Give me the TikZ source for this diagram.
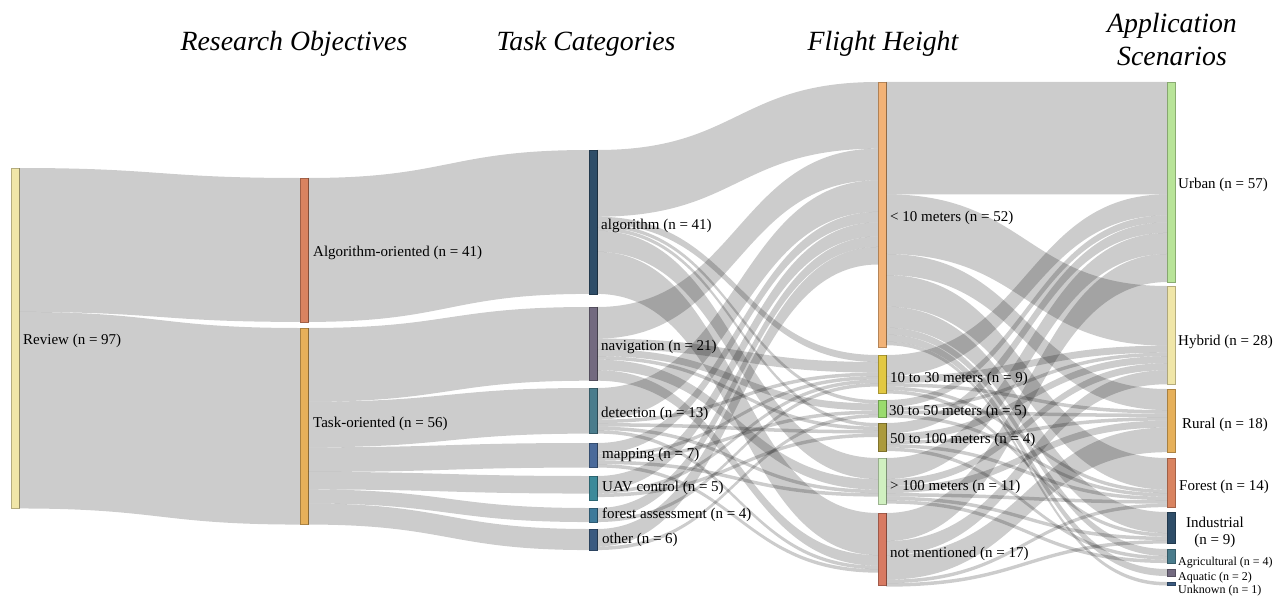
\documentclass[tikz,border=0pt]{standalone}
\usepackage{fontspec}
\setmainfont{Liberation Serif}
\definecolor{cReview}{HTML}{F0E6A8}
\definecolor{cAO}{HTML}{D98360}
\definecolor{cTO}{HTML}{E6B05A}
\definecolor{cAlg}{HTML}{2E4D68}
\definecolor{cNav}{HTML}{736A80}
\definecolor{cDet}{HTML}{4A7C8C}
\definecolor{cMap}{HTML}{4A6A9A}
\definecolor{cUav}{HTML}{3C8A9A}
\definecolor{cFa}{HTML}{3E7A9A}
\definecolor{cOth}{HTML}{3A5A80}
\definecolor{cHa}{HTML}{F2B276}
\definecolor{cHb}{HTML}{E2C842}
\definecolor{cHc}{HTML}{9ADB6E}
\definecolor{cHd}{HTML}{AB9A3C}
\definecolor{cHe}{HTML}{D0F0C0}
\definecolor{cHf}{HTML}{D87A62}
\definecolor{cUrb}{HTML}{B8E498}
\definecolor{cHyb}{HTML}{F0E6A8}
\definecolor{cRur}{HTML}{E6B05A}
\definecolor{cFst}{HTML}{D98360}
\definecolor{cInd}{HTML}{2E4D68}
\definecolor{cAgr}{HTML}{4A7C8C}
\definecolor{cAqu}{HTML}{736A80}
\definecolor{cUnk}{HTML}{3A5A80}
\newcommand\un{3.51}
\newcommand\lnk[3]{%
  \pgfmathsetmacro\lw{#3*\un}%
  \edef\oa{\csname oo@#1\endcsname}\edef\ob{\csname ii@#2\endcsname}%
  \pgfmathsetmacro\oaa{\oa+\lw}\pgfmathsetmacro\obb{\ob+\lw}%
  \fill[flow] ([yshift=-\oa pt]#1.north east) .. controls +(140.5,0) and +(-140.5,0) .. ([yshift=-\ob pt]#2.north west)
    -- ([yshift=-\obb pt]#2.north west) .. controls +(-140.5,0) and +(140.5,0) .. ([yshift=-\oaa pt]#1.north east) -- cycle;
  \expandafter\xdef\csname oo@#1\endcsname{\oaa}%
  \expandafter\xdef\csname ii@#2\endcsname{\obb}%
}
\begin{document}
\begin{tikzpicture}[x=1pt,y=-1pt,
  bar/.style={rectangle, inner sep=0pt, outer sep=0pt, minimum width=8pt, anchor=north west, fill=#1, draw=#1!75!black, line width=0.5pt},
  flow/.style={fill=black, fill opacity=0.2},
  lab/.style={font=\fontsize{15}{17}\selectfont, inner sep=0pt, anchor=west},
  smalllab/.style={font=\fontsize{12}{14}\selectfont, inner sep=0pt, anchor=west},
  title/.style={font=\fontsize{27.8}{33}\selectfont\itshape, align=center, inner sep=0pt}]
\useasboundingbox (0,0) rectangle (1282,599);
\foreach \n in {review,ao,to,alg,nav,det,map,uav,fa,oth,ha,hb,hc,hd,he,hf,urb,hyb,rur,fst,ind,agr,aqu,unk}{%
  \expandafter\xdef\csname oo@\n\endcsname{0}%
  \expandafter\xdef\csname ii@\n\endcsname{0}}
% bars
\node[bar=cReview, minimum height=340.47pt] (review) at (11,168) {};
\node[bar=cAO, minimum height=143.91pt] (ao) at (300,178) {};
\node[bar=cTO, minimum height=196.56pt] (to) at (300,328) {};
\node[bar=cAlg, minimum height=143.91pt] (alg) at (589,150) {};
\node[bar=cNav, minimum height=73.71pt] (nav) at (589,307) {};
\node[bar=cDet, minimum height=45.63pt] (det) at (589,388) {};
\node[bar=cMap, minimum height=24.57pt] (map) at (589,443) {};
\node[bar=cUav, minimum height=24pt] (uav) at (589,476) {};
\node[bar=cFa, minimum height=14.04pt] (fa) at (589,508) {};
\node[bar=cOth, minimum height=21.06pt] (oth) at (589,529) {};
\node[bar=cHa, minimum height=265pt] (ha) at (878,82) {};
\node[bar=cHb, minimum height=38pt] (hb) at (878,355) {};
\node[bar=cHc, minimum height=17pt] (hc) at (878,400) {};
\node[bar=cHd, minimum height=28pt] (hd) at (878,423) {};
\node[bar=cHe, minimum height=46pt] (he) at (878,458) {};
\node[bar=cHf, minimum height=72pt] (hf) at (878,513) {};
\node[bar=cUrb, minimum height=200.07pt] (urb) at (1167,82) {};
\node[bar=cHyb, minimum height=98.28pt] (hyb) at (1167,286) {};
\node[bar=cRur, minimum height=63.18pt] (rur) at (1167,389) {};
\node[bar=cFst, minimum height=49.14pt] (fst) at (1167,458) {};
\node[bar=cInd, minimum height=31.59pt] (ind) at (1167,512) {};
\node[bar=cAgr, minimum height=14.04pt] (agr) at (1167,549) {};
\node[bar=cAqu, minimum height=7.02pt] (aqu) at (1167,569) {};
\node[bar=cUnk, minimum height=3.51pt] (unk) at (1167,582) {};
% flows layer 1
\lnk{review}{ao}{41}\lnk{review}{to}{56}
% layer 2
\lnk{ao}{alg}{41}
\lnk{to}{nav}{21}\lnk{to}{det}{13}\lnk{to}{map}{7}\lnk{to}{uav}{5}\lnk{to}{fa}{4}\lnk{to}{oth}{6}
% layer 3
\lnk{alg}{ha}{19}\lnk{alg}{hb}{2}\lnk{alg}{hc}{1}\lnk{alg}{hd}{1}\lnk{alg}{he}{6}\lnk{alg}{hf}{12}
\lnk{nav}{ha}{9}\lnk{nav}{hb}{3}\lnk{nav}{hc}{2}\lnk{nav}{hd}{1}\lnk{nav}{he}{3}\lnk{nav}{hf}{3}
\lnk{det}{ha}{9}\lnk{det}{hb}{1}\lnk{det}{hd}{1}\lnk{det}{he}{1}\lnk{det}{hf}{1}
\lnk{map}{ha}{3}\lnk{map}{hb}{1}\lnk{map}{hc}{1}\lnk{map}{he}{1}\lnk{map}{hf}{1}
\lnk{uav}{ha}{4}\lnk{uav}{hb}{1}\lnk{uav}{hd}{1}
\lnk{fa}{ha}{3}\lnk{fa}{hb}{1}
\lnk{oth}{ha}{5}\lnk{oth}{hc}{1}
% layer 4
\lnk{ha}{urb}{32}\lnk{ha}{hyb}{17}\lnk{ha}{rur}{6}\lnk{ha}{fst}{9}\lnk{ha}{ind}{6}\lnk{ha}{agr}{2}\lnk{ha}{aqu}{2}\lnk{ha}{unk}{1}
\lnk{hb}{urb}{6}\lnk{hb}{hyb}{2}\lnk{hb}{rur}{1}\lnk{hb}{fst}{1}\lnk{hb}{ind}{1}
\lnk{hc}{urb}{2}\lnk{hc}{hyb}{1}\lnk{hc}{rur}{1}\lnk{hc}{fst}{1}
\lnk{hd}{urb}{3}\lnk{hd}{hyb}{2}\lnk{hd}{rur}{1}\lnk{hd}{fst}{1}\lnk{hd}{agr}{1}
\lnk{he}{urb}{6}\lnk{he}{hyb}{2}\lnk{he}{rur}{2}\lnk{he}{fst}{1}\lnk{he}{ind}{1}\lnk{he}{agr}{1}
\lnk{hf}{urb}{8}\lnk{hf}{hyb}{4}\lnk{hf}{rur}{7}\lnk{hf}{fst}{1}\lnk{hf}{ind}{1}
% labels
\node[lab] (lreview) at ([xshift=4pt,yshift=-3pt]review.east) {Review (n = 97)};
\node[lab] (lao) at ([xshift=5pt,yshift=-3pt]ao.east) {Algorithm-oriented (n = 41)};
\node[lab] (lto) at ([xshift=5pt,yshift=2pt]to.east) {Task-oriented (n = 56)};
\node[lab] (lalg) at ([xshift=4pt,yshift=-4pt]alg.east) {algorithm (n = 41)};
\node[lab] (lnav) at ([xshift=4pt,yshift=-3pt]nav.east) {navigation (n = 21)};
\node[lab] (ldet) at ([xshift=4pt,yshift=-3pt]det.east) {detection (n = 13)};
\node[lab] (lmap) at ([xshift=5pt]map.east) {mapping (n = 7)};
\node[lab] (luav) at ([xshift=5pt]uav.east) {UAV control (n = 5)};
\node[lab] (lfa) at ([xshift=5pt]fa.east) {forest assessment (n = 4)};
\node[lab] (loth) at ([xshift=5pt]oth.east) {other (n = 6)};
\node[lab] (lha) at ([xshift=4pt,yshift=-3.5pt]ha.east) {< 10 meters (n = 52)};
\node[lab] (lhb) at ([xshift=4pt,yshift=-5pt]hb.east) {10 to 30 meters (n = 9)};
\node[lab] (lhc) at ([xshift=3pt,yshift=-3.5pt]hc.east) {30 to 50 meters (n = 5)};
\node[lab] (lhd) at ([xshift=4pt,yshift=-3pt]hd.east) {50 to 100 meters (n = 4)};
\node[lab] (lhe) at ([xshift=4pt,yshift=-6pt]he.east) {> 100 meters (n = 11)};
\node[lab] (lhf) at ([xshift=4pt,yshift=-5pt]hf.east) {not mentioned (n = 17)};
\node[lab] (lurb) at ([xshift=3pt,yshift=-3pt]urb.east) {Urban (n = 57)};
\node[lab] (lhyb) at ([xshift=3pt,yshift=-7pt]hyb.east) {Hybrid (n = 28)};
\node[lab] (lrur) at ([xshift=7pt,yshift=-4.5pt]rur.east) {Rural (n = 18)};
\node[lab] (lfst) at ([xshift=4pt,yshift=-4.5pt]fst.east) {Forest (n = 14)};
\node[lab, align=center] (lind) at ([xshift=11pt,yshift=-5pt]ind.east) {Industrial\\(n = 9)};
\node[smalllab] (lagr) at ([xshift=3pt,yshift=-7pt]agr.east) {Agricultural (n = 4)};
\node[smalllab] (laqu) at ([xshift=3pt,yshift=-5.5pt]aqu.east) {Aquatic (n = 2)};
\node[smalllab] (lunk) at ([xshift=3pt,yshift=-7pt]unk.east) {Unknown (n = 1)};
% titles
\node[title] (t1) at (294,44) {Research Objectives};
\node[title] (t2) at (586,44) {Task Categories};
\node[title] (t3) at (883,44) {Flight Height};
\node[title] (t4) at (1172,39) {Application\\Scenarios};
\end{tikzpicture}
\end{document}
